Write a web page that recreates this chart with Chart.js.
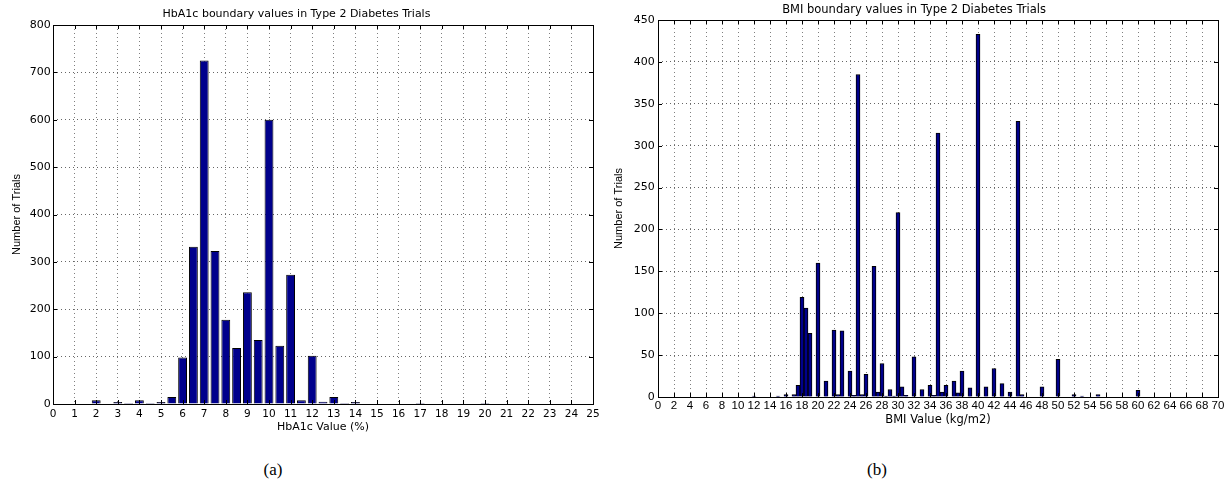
<!DOCTYPE html>
<html><head><meta charset="utf-8">
<script src="https://cdn.jsdelivr.net/npm/chart.js@4.4.0/dist/chart.umd.min.js"></script>
<style>
html,body{margin:0;padding:0;background:#fff;width:1230px;height:485px;overflow:hidden;position:relative}
canvas{position:absolute;top:0}
#c1{left:0}
#c2{left:610px}
.cap{position:absolute;font-family:"Liberation Serif","Times New Roman",serif;font-size:17px;line-height:20px;transform:translateX(-50%);top:460px;color:#000}
</style></head><body>
<canvas id="c1" width="610" height="445"></canvas>
<canvas id="c2" width="620" height="445"></canvas>
<div class="cap" style="left:273px">(a)</div>
<div class="cap" style="left:877px">(b)</div>
<script>
// ---- HbA1c chart data ----
const hba1cBins   = [2, 3, 3.5, 4, 4.5, 5, 5.5, 6, 6.5, 7, 7.5, 8, 8.5, 9, 9.5, 10, 10.5, 11, 11.5, 12, 12.5, 13, 13.5, 14, 14.5, 17, 20];
const hba1cCounts = [8, 4, 2, 8, 2, 4, 15, 98, 332, 725, 323, 178, 118, 236, 135, 600, 123, 273, 8, 102, 5, 15, 2, 4, 1, 2, 2];
const hba1cXTicks = [0,1,2,3,4,5,6,7,8,9,10,11,12,13,14,15,16,17,18,19,20,21,22,23,24,25];
const hba1cYTicks = [0,100,200,300,400,500,600,700,800];

// ---- BMI chart data ----
const bmiBins   = [12, 15, 16, 17, 17.5, 18, 18.5, 19, 20, 21, 22, 22.5, 23, 24, 24.5, 25, 25.5, 26, 27, 27.5, 28, 28.5, 29, 29.5, 30, 30.5, 31, 32, 33, 34, 34.5, 35, 35.5, 36, 37, 37.5, 38, 39, 40, 41, 42, 43, 44, 45, 45.5, 48, 50, 52, 53, 55, 60];
const bmiCounts = [1, 1, 3, 3, 14, 119, 106, 76, 160, 19, 80, 3, 79, 31, 2, 385, 3, 27, 156, 6, 40, 1, 9, 1, 220, 12, 2, 48, 9, 14, 2, 315, 6, 14, 19, 5, 31, 11, 433, 12, 34, 16, 6, 329, 3, 12, 45, 3, 1, 3, 8];
const bmiXTicks = [0,2,4,6,8,10,12,14,16,18,20,22,24,26,28,30,32,34,36,38,40,42,44,46,48,50,52,54,56,58,60,62,64,66,68,70];
const bmiYTicks = [0,50,100,150,200,250,300,350,400,450];

const BAR_FILL = 'rgb(0,0,140)';

const framePlugin = {
  id: 'frame',
  afterDraw(chart) {
    const {ctx, chartArea: a, scales: {x, y}} = chart;
    const L = 4;
    ctx.save();
    ctx.strokeStyle = '#000';
    ctx.lineWidth = 1;
    ctx.setLineDash([]);
    ctx.beginPath();
    x.ticks.forEach((t) => {
      const px = Math.round(x.getPixelForValue(t.value)) + 0.5;
      ctx.moveTo(px, a.bottom); ctx.lineTo(px, a.bottom - L);
      ctx.moveTo(px, a.top); ctx.lineTo(px, a.top + L);
    });
    y.ticks.forEach((t) => {
      const py = Math.round(y.getPixelForValue(t.value)) + 0.5;
      ctx.moveTo(a.left, py); ctx.lineTo(a.left + L, py);
      ctx.moveTo(a.right, py); ctx.lineTo(a.right - L, py);
    });
    ctx.stroke();
    ctx.strokeRect(Math.round(a.left) + 0.5, Math.round(a.top) + 0.5,
                   Math.round(a.right - a.left), Math.round(a.bottom - a.top));
    ctx.restore();
  }
};

function makeChart(id, o) {
  const points = o.bins.map((b, i) => ({x: b, y: o.counts[i]}));
  return new Chart(document.getElementById(id), {
    type: 'bar',
    data: { datasets: [{
      data: points,
      backgroundColor: BAR_FILL,
      borderColor: '#000',
      borderWidth: 1,
      categoryPercentage: 1,
      barPercentage: o.barPct
    }]},
    options: {
      responsive: false,
      animation: false,
      devicePixelRatio: 1,
      events: [],
      layout: { padding: { left: 0, right: o.padRight, top: 0, bottom: 0 } },
      plugins: {
        legend: { display: false },
        tooltip: { enabled: false },
        title: {
          display: true,
          text: o.title,
          color: '#000',
          font: { family: 'DejaVu Sans', size: o.titleSize, weight: 'normal', lineHeight: 1.2 },
          padding: { top: o.titlePadTop, bottom: o.titlePadBottom }
        }
      },
      scales: {
        x: {
          type: 'linear',
          offset: false,
          min: o.xTicks[0],
          max: o.xTicks[o.xTicks.length - 1],
          afterBuildTicks: s => { s.ticks = o.xTicks.map(v => ({value: v})); },
          afterFit: s => { s.height = o.xAxisHeight; },
          grid: { display: true, offset: false, drawTicks: false, color: 'rgba(0,0,0,0.5)', lineWidth: 1 },
          border: { display: false, dash: [1, 3] },
          ticks: {
            autoSkip: false, maxRotation: 0, minRotation: 0,
            padding: o.xTickPad, color: '#000',
            font: { family: o.xTickFamily, size: o.xTickSize },
            callback: v => String(v)
          },
          title: {
            display: true, text: o.xTitle, color: '#000',
            font: { family: 'DejaVu Sans', size: o.xTitleSize, lineHeight: 1.2 },
            padding: { top: 0, bottom: o.xTitlePadBottom }
          }
        },
        y: {
          type: 'linear',
          min: o.yTicks[0],
          max: o.yTicks[o.yTicks.length - 1],
          afterBuildTicks: s => { s.ticks = o.yTicks.map(v => ({value: v})); },
          afterFit: s => { s.width = o.yAxisWidth; },
          grid: { display: true, drawTicks: false, color: 'rgba(0,0,0,0.6)', lineWidth: 1 },
          border: { display: false, dash: [1, 3] },
          ticks: {
            padding: o.yTickPad, color: '#000',
            font: { family: 'DejaVu Sans', size: o.yTickSize },
            callback: v => String(v)
          },
          title: {
            display: true, text: 'Number of Trials', color: '#000',
            font: { family: 'Liberation Sans', size: 11, lineHeight: 1.2 },
            padding: { top: o.yTitlePadTop, bottom: 0 }
          }
        }
      }
    },
    plugins: [framePlugin]
  });
}

makeChart('c1', {
  bins: hba1cBins, counts: hba1cCounts, xTicks: hba1cXTicks, yTicks: hba1cYTicks,
  barPct: 0.82, padRight: 17,
  title: 'HbA1c boundary values in Type 2 Diabetes Trials', titleSize: 11, titlePadTop: 7.9, titlePadBottom: 3.9,
  xAxisHeight: 41, xTickPad: 4, xTickFamily: 'DejaVu Sans', xTickSize: 10.5,
  xTitle: 'HbA1c Value (%)', xTitleSize: 11, xTitlePadBottom: 11.2,
  yAxisWidth: 53, yTickPad: 2.3, yTickSize: 11, yTitlePadTop: 10.5
});

makeChart('c2', {
  bins: bmiBins, counts: bmiCounts, xTicks: bmiXTicks, yTicks: bmiYTicks,
  barPct: 1.0, padRight: 12,
  title: 'BMI boundary values in Type 2 Diabetes Trials', titleSize: 11.5, titlePadTop: 3.1, titlePadBottom: 3.1,
  xAxisHeight: 48, xTickPad: 1.5, xTickFamily: 'Liberation Sans', xTickSize: 11.5,
  xTitle: 'BMI Value (kg/m2)', xTitleSize: 11.5, xTitlePadBottom: 17.8,
  yAxisWidth: 48, yTickPad: 3.3, yTickSize: 11, yTitlePadTop: 2.85
});
</script>
</body></html>
